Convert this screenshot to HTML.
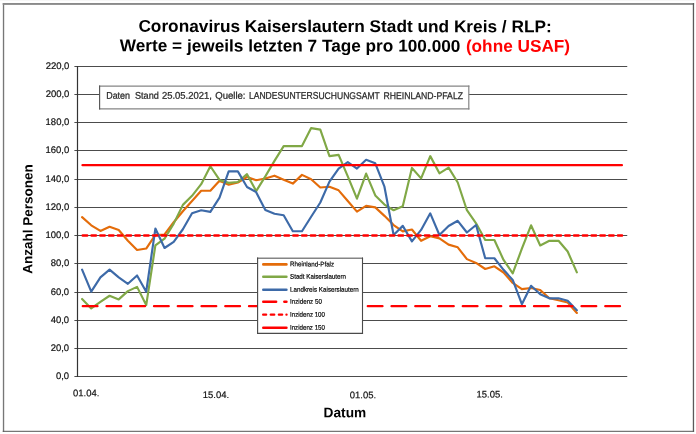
<!DOCTYPE html>
<html><head><meta charset="utf-8"><title>Coronavirus Kaiserslautern</title>
<style>html,body{margin:0;padding:0;background:#fff;}body{width:696px;height:434px;overflow:hidden;}svg{display:block;text-rendering:geometricPrecision;will-change:transform;opacity:0.9999;font-family:"Liberation Sans",sans-serif;}</style>
</head><body>
<svg width="696" height="434" viewBox="0 0 696 434">
<rect x="0" y="0" width="696" height="434" fill="#ffffff"/>
<rect x="0" y="0" width="696" height="1" fill="#f7f7f7"/>
<rect x="2.85" y="3" width="1.35" height="428.8" fill="#777"/>
<rect x="2.7" y="3" width="691.4" height="1.9" fill="#8a8a8a"/>
<rect x="692.8" y="3" width="1.3" height="428.8" fill="#5a5a5a"/>
<rect x="2.7" y="430.8" width="691.4" height="1" fill="#555"/>
<g stroke="#4c4c4c" stroke-width="1" fill="none">
<line x1="74.4" y1="376.50" x2="627.25" y2="376.50"/>
<line x1="74.4" y1="348.50" x2="627.25" y2="348.50"/>
<line x1="74.4" y1="320.50" x2="627.25" y2="320.50"/>
<line x1="74.4" y1="292.50" x2="627.25" y2="292.50"/>
<line x1="74.4" y1="263.50" x2="627.25" y2="263.50"/>
<line x1="74.4" y1="235.50" x2="627.25" y2="235.50"/>
<line x1="74.4" y1="207.50" x2="627.25" y2="207.50"/>
<line x1="74.4" y1="179.50" x2="627.25" y2="179.50"/>
<line x1="74.4" y1="150.50" x2="627.25" y2="150.50"/>
<line x1="74.4" y1="122.50" x2="627.25" y2="122.50"/>
<line x1="74.4" y1="94.50" x2="627.25" y2="94.50"/>
<line x1="74.4" y1="66.50" x2="627.25" y2="66.50"/>
<line x1="77.50" y1="66.00" x2="77.50" y2="377.00" stroke="#333" stroke-width="1.2"/>
</g>
<g transform="rotate(0.06 58 220)" font-size="9.5" fill="#111" stroke="#111" stroke-width="0.2" text-anchor="end">
<text x="69.2" y="379.05" textLength="13.15" lengthAdjust="spacingAndGlyphs">0,0</text>
<text x="69.2" y="351.05" textLength="18.40" lengthAdjust="spacingAndGlyphs">20,0</text>
<text x="69.2" y="323.05" textLength="18.40" lengthAdjust="spacingAndGlyphs">40,0</text>
<text x="69.2" y="295.05" textLength="18.40" lengthAdjust="spacingAndGlyphs">60,0</text>
<text x="69.2" y="266.05" textLength="18.40" lengthAdjust="spacingAndGlyphs">80,0</text>
<text x="69.2" y="238.05" textLength="23.70" lengthAdjust="spacingAndGlyphs">100,0</text>
<text x="69.2" y="210.05" textLength="23.70" lengthAdjust="spacingAndGlyphs">120,0</text>
<text x="69.2" y="182.05" textLength="23.70" lengthAdjust="spacingAndGlyphs">140,0</text>
<text x="69.2" y="153.05" textLength="23.70" lengthAdjust="spacingAndGlyphs">160,0</text>
<text x="69.2" y="125.05" textLength="23.70" lengthAdjust="spacingAndGlyphs">180,0</text>
<text x="69.2" y="97.05" textLength="23.70" lengthAdjust="spacingAndGlyphs">200,0</text>
<text x="69.2" y="69.05" textLength="23.70" lengthAdjust="spacingAndGlyphs">220,0</text>
</g>
<g transform="rotate(0.06 290 397)" font-size="9.5" fill="#111" stroke="#111" stroke-width="0.2" text-anchor="middle">
<text x="86.25" y="396.40" textLength="26.3" lengthAdjust="spacingAndGlyphs">01.04.</text>
<text x="216.00" y="398.15" textLength="26.3" lengthAdjust="spacingAndGlyphs">15.04.</text>
<text x="363.00" y="398.15" textLength="26.3" lengthAdjust="spacingAndGlyphs">01.05.</text>
<text x="489.75" y="397.40" textLength="26.3" lengthAdjust="spacingAndGlyphs">15.05.</text>
</g>
<g fill="none" stroke-width="2.15" stroke-linejoin="round" stroke-linecap="round">
<polyline stroke="#E46C0A" points="82.08,217.13 91.24,225.30 100.41,230.94 109.57,226.71 118.73,229.95 127.89,240.80 137.06,249.96 146.22,248.55 155.38,234.89 164.54,234.46 173.71,222.20 182.87,211.21 192.03,201.07 201.19,190.78 210.36,190.78 219.52,180.78 228.68,184.72 237.84,182.47 247.01,176.97 256.17,180.21 265.33,178.52 274.49,175.70 283.66,179.65 292.82,183.60 301.98,174.86 311.14,179.23 320.31,187.54 329.47,186.70 338.63,190.36 347.79,201.07 356.96,211.64 366.12,205.86 375.28,207.41 384.44,215.86 393.61,225.02 402.77,231.36 411.93,229.53 421.09,240.80 430.26,236.30 439.42,238.41 448.58,244.61 457.74,247.29 466.91,259.12 476.07,262.93 485.23,268.99 494.39,266.31 503.56,272.51 512.72,282.94 521.88,289.14 531.04,288.01 540.21,289.98 549.37,298.30 558.53,300.27 567.69,302.52 576.86,312.95"/>
<polyline stroke="#80A846" points="82.08,299.00 91.24,308.44 100.41,301.96 109.57,295.76 118.73,299.42 127.89,291.11 137.06,286.88 146.22,305.06 155.38,245.45 164.54,238.69 173.71,223.61 182.87,204.87 192.03,195.85 201.19,184.16 210.36,166.26 219.52,179.93 228.68,182.89 237.84,182.05 247.01,174.15 256.17,191.06 265.33,176.41 274.49,160.91 283.66,146.11 292.82,146.11 301.98,146.11 311.14,128.08 320.31,129.63 329.47,156.12 338.63,154.85 347.79,176.41 356.96,198.67 366.12,173.59 375.28,195.43 384.44,204.59 393.61,210.23 402.77,206.28 411.93,167.95 421.09,178.38 430.26,156.12 439.42,173.31 448.58,167.67 457.74,182.47 466.91,210.23 476.07,223.33 485.23,239.96 494.39,239.96 503.56,259.97 512.72,273.35 521.88,248.70 531.04,225.30 540.21,245.45 549.37,240.80 558.53,240.80 567.69,251.51 576.86,272.37"/>
<polyline stroke="#3D6AA8" points="82.08,269.69 91.24,291.67 100.41,277.44 109.57,269.69 118.73,277.44 127.89,283.78 137.06,275.47 146.22,291.67 155.38,228.55 164.54,247.99 173.71,241.79 182.87,229.25 192.03,213.19 201.19,210.23 210.36,211.92 219.52,197.55 228.68,171.34 237.84,171.34 247.01,186.98 256.17,192.19 265.33,209.95 274.49,213.75 283.66,215.30 292.82,231.22 301.98,231.22 311.14,216.71 320.31,202.48 329.47,181.62 338.63,168.66 347.79,162.04 356.96,168.52 366.12,159.78 375.28,163.30 384.44,186.70 393.61,235.03 402.77,225.87 411.93,241.37 421.09,229.95 430.26,213.33 439.42,235.03 448.58,226.01 457.74,220.80 466.91,232.49 476.07,225.02 485.23,258.28 494.39,258.28 503.56,269.83 512.72,279.98 521.88,304.21 531.04,285.75 540.21,294.21 549.37,298.30 558.53,298.30 567.69,300.83 576.86,310.27"/>
</g>
<g fill="none" stroke="#FF0000" stroke-linecap="round">
<line x1="82.75" y1="306.2" x2="622.2" y2="306.2" stroke-width="2.25" stroke-dasharray="14.75 9"/>
<line x1="82.7" y1="235.54" x2="622.1" y2="235.54" stroke-width="2.4" stroke-dasharray="4.5 4.274"/>
<line x1="82.5" y1="165.17" x2="621.9" y2="165.17" stroke-width="2.3"/>
</g>
<rect x="99.6" y="86.1" width="369.2" height="22.8" fill="#fff"/>
<line x1="99.05" y1="86.1" x2="469.4" y2="86.1" stroke="#858585" stroke-width="1.4"/>
<line x1="99.05" y1="108.9" x2="469.4" y2="108.9" stroke="#858585" stroke-width="1.4"/>
<line x1="468.8" y1="85.4" x2="468.8" y2="109.6" stroke="#858585" stroke-width="1.2"/>
<line x1="99.6" y1="85.4" x2="99.6" y2="109.6" stroke="#555" stroke-width="1.15"/>
<g transform="rotate(0.06 284 98)" font-size="9.7" fill="#2a2a2a" stroke="#2a2a2a" stroke-width="0.25">
<text x="106.20" y="98.85" textLength="23.85" lengthAdjust="spacingAndGlyphs">Daten</text>
<text x="134.95" y="98.85" textLength="23.85" lengthAdjust="spacingAndGlyphs">Stand</text>
<text x="161.95" y="98.85" textLength="49.85" lengthAdjust="spacingAndGlyphs">25.05.2021,</text>
<text x="215.20" y="98.85" textLength="30.35" lengthAdjust="spacingAndGlyphs">Quelle:</text>
<text x="248.95" y="98.85" textLength="130.85" lengthAdjust="spacingAndGlyphs">LANDESUNTERSUCHUNGSAMT</text>
<text x="383.45" y="98.85" textLength="79.60" lengthAdjust="spacingAndGlyphs">RHEINLAND-PFALZ</text>
</g>
<rect x="257.6" y="258.2" width="104.9" height="75.1" fill="#fff"/>
<line x1="257.05" y1="258.2" x2="363.05" y2="258.2" stroke="#858585" stroke-width="1.4"/>
<line x1="257.05" y1="333.3" x2="363.05" y2="333.3" stroke="#4a4a4a" stroke-width="1.2"/>
<line x1="362.5" y1="257.5" x2="362.5" y2="333.9" stroke="#4a4a4a" stroke-width="1.1"/>
<line x1="257.6" y1="257.5" x2="257.6" y2="333.9" stroke="#4a4a4a" stroke-width="1.15"/>
<g fill="none" stroke-width="2.6" stroke-linecap="round">
<line x1="263.3" y1="264.40" x2="286.4" y2="264.40" stroke="#E46C0A"/>
<line x1="263.3" y1="276.70" x2="286.4" y2="276.70" stroke="#80A846"/>
<line x1="263.3" y1="289.70" x2="286.4" y2="289.70" stroke="#3D6AA8"/>
<line x1="263.3" y1="327.70" x2="286.4" y2="327.70" stroke="#FF0000"/>
<line x1="263.3" y1="301.80" x2="276.1" y2="301.80" stroke="#FF0000"/>
<line x1="284.4" y1="301.80" x2="286.4" y2="301.80" stroke="#FF0000"/>
</g>
<g fill="none" stroke-width="2.3" stroke-linecap="round" stroke="#FF0000">
<line x1="263.15" y1="314.70" x2="266.15" y2="314.70"/>
<line x1="270.75" y1="314.70" x2="274.25" y2="314.70"/>
<line x1="278.85" y1="314.70" x2="282.15" y2="314.70"/>
<line x1="286.45" y1="314.70" x2="286.55" y2="314.70"/>
</g>
<g transform="rotate(0.06 320 296)" font-size="6.8" fill="#000" stroke="#000" stroke-width="0.18">
<text x="290" y="266.40" textLength="44.1" lengthAdjust="spacingAndGlyphs">Rheinland-Pfalz</text>
<text x="290" y="278.70" textLength="56.0" lengthAdjust="spacingAndGlyphs">Stadt Kaiserslautern</text>
<text x="290" y="291.70" textLength="68.8" lengthAdjust="spacingAndGlyphs">Landkreis Kaiserslautern</text>
<text x="290" y="303.80" textLength="31.9" lengthAdjust="spacingAndGlyphs">Inzidenz 50</text>
<text x="290" y="316.70" textLength="35.0" lengthAdjust="spacingAndGlyphs">Inzidenz 100</text>
<text x="290" y="329.70" textLength="35.0" lengthAdjust="spacingAndGlyphs">Inzidenz 150</text>
</g>
<g transform="rotate(0.06 345 40)" font-size="17" font-weight="bold" fill="#000">
<text x="138.4" y="32.05" textLength="413.3" lengthAdjust="spacingAndGlyphs">Coronavirus Kaiserslautern Stadt und Kreis / RLP:</text>
<text x="119.8" y="51.55" textLength="340.6" lengthAdjust="spacingAndGlyphs">Werte = jeweils letzten 7 Tage pro 100.000</text>
<text x="465.9" y="51.55" textLength="104.2" lengthAdjust="spacingAndGlyphs" fill="#FF0000">(ohne USAF)</text>
</g>
<text transform="rotate(0.06 345 412)" x="323.6" y="417.2" font-size="13.8" font-weight="bold" fill="#000" textLength="42.6" lengthAdjust="spacingAndGlyphs">Datum</text>
<text transform="translate(32.4,218.9) rotate(-89.94)" font-size="13.5" font-weight="bold" text-anchor="middle" fill="#000">Anzahl Personen</text>
</svg>
</body></html>
